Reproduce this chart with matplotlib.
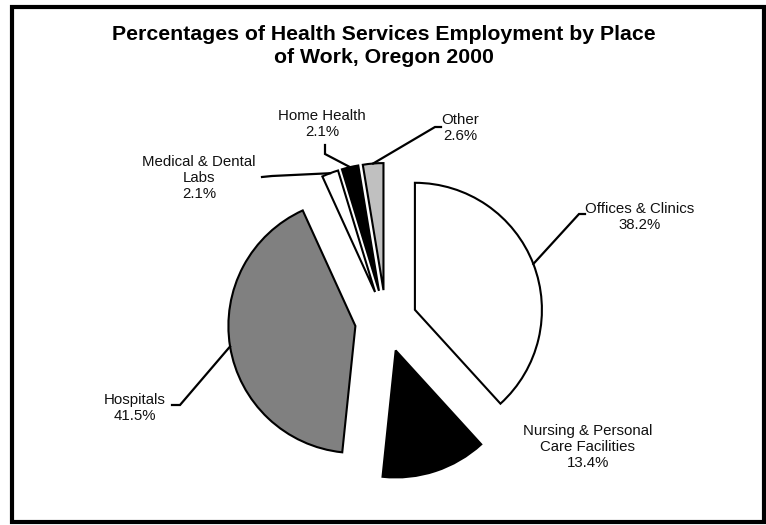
import math
import matplotlib
matplotlib.use("Agg")
import matplotlib.pyplot as plt
from matplotlib.patches import Rectangle

plt.rcParams['font.family'] = ['Liberation Sans', 'DejaVu Sans']

# ---- data ----
categories = ["Offices & Clinics", "Nursing & Personal\nCare Facilities", "Hospitals",
              "Medical & Dental\nLabs", "Home Health", "Other"]
values = [38.2, 13.4, 41.5, 2.1, 2.1, 2.6]
value_labels = ["38.2%", "13.4%", "41.5%", "2.1%", "2.1%", "2.6%"]
colors = ["white", "black", "#808080", "white", "black", "#c0c0c0"]
title = "Percentages of Health Services Employment by Place\nof Work, Oregon 2000"

# ---- layout (pixel coordinates, y measured from top) ----
W, H = 766, 525
label_pos = [(640, 217), (588, 447), (135, 408), (199, 178), (322, 124), (460, 128)]
leader_paths = [[(579, 214), (585, 214)], [], [(180, 405), (172, 405)],
                [(272, 176), (262, 177)], [(325, 154), (325, 145)],
                [(435, 127), (441, 127)]]

fig = plt.figure(figsize=(W / 100, H / 100), dpi=100)
ax = fig.add_axes([0, 0, 1, 1])

def Y(y):
    return H - y

wedges, _ = ax.pie(values, colors=colors, startangle=90, counterclock=False,
                   center=(386, Y(321)), radius=127, explode=[31] * len(values),
                   wedgeprops=dict(edgecolor='black', linewidth=1.5), frame=True)
ax.set_xlim(0, W)
ax.set_ylim(0, H)
ax.set_aspect('equal')
ax.axis('off')

for w, cat, vl, (tx, ty), path in zip(wedges, categories, value_labels, label_pos, leader_paths):
    ax.text(tx, Y(ty), f"{cat}\n{vl}", ha='center', va='center', fontsize=10.8,
            linespacing=1.2, color='#111111')
    if path:
        mid = math.radians((w.theta1 + w.theta2) / 2)
        cx, cy = w.center
        sx = cx + w.r * math.cos(mid)
        sy = cy + w.r * math.sin(mid)
        xs = [sx] + [p[0] for p in path]
        ys = [sy] + [Y(p[1]) for p in path]
        ax.plot(xs, ys, color='black', lw=1.6, solid_joinstyle='miter')

ax.text(384, Y(46), title, ha='center', va='center', fontsize=15.3, fontweight='bold',
        linespacing=1.28)

ax.add_patch(Rectangle((12, Y(522)), 752, 515, fill=False, edgecolor='black',
                       linewidth=3, clip_on=False))

fig.savefig("out.png", dpi=100)
